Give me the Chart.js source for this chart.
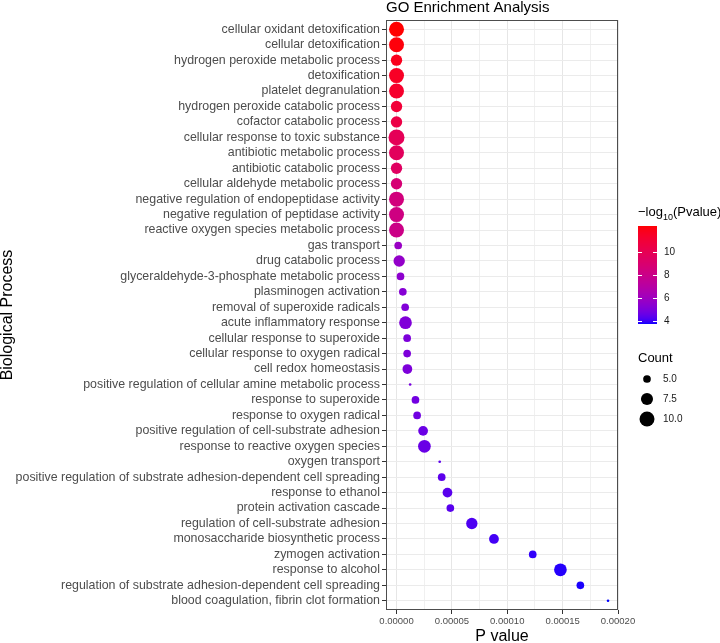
<!DOCTYPE html>
<html>
<head>
<meta charset="utf-8">
<script src="https://cdn.jsdelivr.net/npm/chart.js@4.4.1/dist/chart.umd.min.js"></script>
<style>
  html, body { margin: 0; padding: 0; background: #ffffff; }
  #wrap { width: 720px; height: 643px; }
</style>
</head>
<body>
<div id="wrap"><canvas id="goChart" width="720" height="643"></canvas></div>
<script>
const terms = [
  "cellular oxidant detoxification",
  "cellular detoxification",
  "hydrogen peroxide metabolic process",
  "detoxification",
  "platelet degranulation",
  "hydrogen peroxide catabolic process",
  "cofactor catabolic process",
  "cellular response to toxic substance",
  "antibiotic metabolic process",
  "antibiotic catabolic process",
  "cellular aldehyde metabolic process",
  "negative regulation of endopeptidase activity",
  "negative regulation of peptidase activity",
  "reactive oxygen species metabolic process",
  "gas transport",
  "drug catabolic process",
  "glyceraldehyde-3-phosphate metabolic process",
  "plasminogen activation",
  "removal of superoxide radicals",
  "acute inflammatory response",
  "cellular response to superoxide",
  "cellular response to oxygen radical",
  "cell redox homeostasis",
  "positive regulation of cellular amine metabolic process",
  "response to superoxide",
  "response to oxygen radical",
  "positive regulation of cell-substrate adhesion",
  "response to reactive oxygen species",
  "oxygen transport",
  "positive regulation of substrate adhesion-dependent cell spreading",
  "response to ethanol",
  "protein activation cascade",
  "regulation of cell-substrate adhesion",
  "monosaccharide biosynthetic process",
  "zymogen activation",
  "response to alcohol",
  "regulation of substrate adhesion-dependent cell spreading",
  "blood coagulation, fibrin clot formation"
];

const pValues = [
  5.0e-13, 7.0e-13, 1.6e-12, 2.5e-12, 4.0e-12, 1.0e-11, 3.2e-11, 1.3e-10,
  2.0e-10, 3.2e-10, 1.6e-9, 3.2e-9, 5.0e-9, 8.0e-9,
  1.5e-6, 2.4e-6, 3.6e-6, 5.7e-6, 7.8e-6, 8.1e-6, 9.6e-6, 9.6e-6, 9.8e-6,
  1.23e-5, 1.71e-5, 1.86e-5, 2.4e-5, 2.52e-5, 3.9e-5, 4.08e-5, 4.6e-5,
  4.86e-5, 6.8e-5, 8.8e-5, 1.23e-4, 1.48e-4, 1.66e-4, 1.91e-4
];

const counts = [
  10, 10, 7, 10, 10, 7, 7, 11, 10, 7, 7, 10, 10, 10,
  5, 7, 5, 5, 5, 8, 5, 5, 6, 4, 5, 5, 6, 8,
  4, 5, 6, 5, 7, 6, 5, 8, 5, 4
];

const xTickValues = [0, 0.000025, 0.00005, 0.000075, 0.0001, 0.000125, 0.00015, 0.000175, 0.0002];
const colorTicks = [4, 6, 8, 10];
const countBreaks = [5, 7.5, 10];

const fontFamily = "'Liberation Sans', Arial, Helvetica, sans-serif";

// size scale: area-proportional, like ggplot's scale_size
const countMin = 4;
const countMax = 11;
function radiusFor(count) {
  const size = 1 + 5 * Math.sqrt((count - countMin) / (countMax - countMin));
  return size * 1.33;
}

// colour scale: blue -> red interpolated in Lab space
const logP = pValues.map((p) => -Math.log10(p));
const logMin = Math.min(...logP);
const logMax = Math.max(...logP);

function toLinear(c) {
  c /= 255;
  return c <= 0.04045 ? c / 12.92 : Math.pow((c + 0.055) / 1.055, 2.4);
}
function fromLinear(c) {
  const v = c <= 0.0031308 ? 12.92 * c : 1.055 * Math.pow(c, 1 / 2.4) - 0.055;
  return Math.round(Math.max(0, Math.min(1, v)) * 255);
}
const white = [0.95047, 1, 1.08883];
function rgbToLab(rgb) {
  const [r, g, b] = rgb.map(toLinear);
  const x = (r * 0.4124 + g * 0.3576 + b * 0.1805) / white[0];
  const y = (r * 0.2126 + g * 0.7152 + b * 0.0722) / white[1];
  const z = (r * 0.0193 + g * 0.1192 + b * 0.9505) / white[2];
  const f = (t) => (t > 0.008856 ? Math.cbrt(t) : 7.787 * t + 16 / 116);
  return [116 * f(y) - 16, 500 * (f(x) - f(y)), 200 * (f(y) - f(z))];
}
function labToRgb(lab) {
  const fy = (lab[0] + 16) / 116;
  const fx = fy + lab[1] / 500;
  const fz = fy - lab[2] / 200;
  const inv = (t) => (t * t * t > 0.008856 ? t * t * t : (t - 16 / 116) / 7.787);
  const x = inv(fx) * white[0];
  const y = inv(fy) * white[1];
  const z = inv(fz) * white[2];
  const r = 3.2406 * x - 1.5372 * y - 0.4986 * z;
  const g = -0.9689 * x + 1.8758 * y + 0.0415 * z;
  const b = 0.0557 * x - 0.2040 * y + 1.0570 * z;
  return `rgb(${fromLinear(r)}, ${fromLinear(g)}, ${fromLinear(b)})`;
}
const labLow = rgbToLab([0, 0, 255]);
const labHigh = rgbToLab([255, 0, 0]);
function colorForLog(v) {
  const t = Math.max(0, Math.min(1, (v - logMin) / (logMax - logMin)));
  return labToRgb(labLow.map((c, i) => c + (labHigh[i] - c) * t));
}

function isMajor(v) {
  const k = v / 0.00005;
  return Math.abs(k - Math.round(k)) < 1e-6;
}

const decorPlugin = {
  id: "decor",
  afterDatasetsDraw(chart) {
    const { ctx, chartArea } = chart;
    ctx.save();
    ctx.strokeStyle = "#4d4d4d";
    ctx.lineWidth = 1;
    ctx.strokeRect(chartArea.left + 0.5, chartArea.top + 0.5,
      chartArea.right - chartArea.left - 1, chartArea.bottom - chartArea.top - 1);
    ctx.restore();
  },
  afterDraw(chart) {
    const { ctx, chartArea } = chart;
    ctx.save();
    ctx.textBaseline = "alphabetic";
    ctx.textAlign = "left";

    // title
    ctx.fillStyle = "#000000";
    ctx.font = `15px ${fontFamily}`;
    ctx.fillText("GO Enrichment Analysis", chartArea.left, 12);

    // colour legend
    const lx = 638;
    ctx.font = `13px ${fontFamily}`;
    let tx = lx;
    ctx.fillText("\u2212log", tx, 216);
    tx += ctx.measureText("\u2212log").width;
    ctx.font = `9px ${fontFamily}`;
    ctx.fillText("10", tx, 220);
    tx += ctx.measureText("10").width;
    ctx.font = `13px ${fontFamily}`;
    ctx.fillText("(Pvalue)", tx, 216);

    const barTop = 226, barBottom = 324, barW = 19;
    const barMax = logMax, barMin = logMin;
    for (let y = barTop; y < barBottom; y++) {
      const v = barMax - (y + 0.5 - barTop) / (barBottom - barTop) * (barMax - barMin);
      ctx.fillStyle = colorForLog(v);
      ctx.fillRect(lx, y, barW, 1);
    }
    ctx.font = `10px ${fontFamily}`;
    ctx.textBaseline = "middle";
    colorTicks.forEach((v) => {
      const y = Math.round(barTop + (barMax - v) / (barMax - barMin) * (barBottom - barTop)) + 0.5;
      ctx.strokeStyle = "#ffffff";
      ctx.lineWidth = 1;
      ctx.beginPath();
      ctx.moveTo(lx, y); ctx.lineTo(lx + 4, y);
      ctx.moveTo(lx + barW - 4, y); ctx.lineTo(lx + barW, y);
      ctx.stroke();
      ctx.fillStyle = "#1a1a1a";
      ctx.fillText(String(v), lx + 26, y);
    });

    // size legend
    ctx.textBaseline = "alphabetic";
    ctx.fillStyle = "#000000";
    ctx.font = `13px ${fontFamily}`;
    ctx.fillText("Count", lx, 362);
    ctx.font = `10px ${fontFamily}`;
    ctx.textBaseline = "middle";
    countBreaks.forEach((c, i) => {
      const y = 379 + i * 20;
      ctx.fillStyle = "#000000";
      ctx.beginPath();
      ctx.arc(647, y, radiusFor(c), 0, Math.PI * 2);
      ctx.fill();
      ctx.fillStyle = "#1a1a1a";
      ctx.fillText(c.toFixed(1), 663, y);
    });
    ctx.restore();
  }
};

Chart.defaults.font.family = fontFamily;

new Chart(document.getElementById("goChart"), {
  type: "scatter",
  data: {
    datasets: [{
      data: terms.map((term, i) => ({ x: pValues[i], y: i })),
      pointRadius: (ctx) => radiusFor(counts[ctx.dataIndex]),
      pointHoverRadius: (ctx) => radiusFor(counts[ctx.dataIndex]),
      pointBackgroundColor: (ctx) => colorForLog(logP[ctx.dataIndex]),
      pointBorderColor: (ctx) => colorForLog(logP[ctx.dataIndex]),
      pointBorderWidth: 0
    }]
  },
  options: {
    responsive: false,
    animation: false,
    devicePixelRatio: 1,
    layout: { padding: { top: 20, right: 102, bottom: 0, left: 0 } },
    plugins: {
      legend: { display: false },
      tooltip: { enabled: false }
    },
    scales: {
      x: {
        type: "linear",
        min: -0.0000095,
        max: 0.0002,
        afterBuildTicks: (scale) => { scale.ticks = xTickValues.map((v) => ({ value: v })); },
        afterFit: (scale) => { scale.height = 33; },
        border: { display: false },
        grid: {
          color: (ctx) => (ctx.tick && isMajor(ctx.tick.value) ? "#e6e6e6" : "#f0f0f0"),
          tickColor: (ctx) => (ctx.tick && isMajor(ctx.tick.value) ? "#333333" : "rgba(0,0,0,0)"),
          tickLength: 4
        },
        ticks: {
          autoSkip: false,
          maxRotation: 0,
          padding: 2,
          color: "#4d4d4d",
          font: { size: 9.5 },
          callback: (v) => (isMajor(v) ? Number(v).toFixed(5) : "")
        },
        title: {
          display: true,
          text: "P value",
          color: "#000000",
          font: { size: 16 },
          padding: { top: 0, bottom: -3 }
        }
      },
      y: {
        type: "linear",
        reverse: true,
        min: -0.6,
        max: terms.length - 0.4,
        afterBuildTicks: (scale) => { scale.ticks = terms.map((t, i) => ({ value: i })); },
        afterFit: (scale) => { scale.width = 386; },
        border: { display: false },
        grid: { color: "#ebebeb", tickColor: "#333333", tickLength: 4 },
        ticks: {
          autoSkip: false,
          padding: 2,
          color: "#4d4d4d",
          font: { size: 12.4 },
          callback: (v) => terms[v] ?? ""
        },
        title: {
          display: true,
          text: "Biological Process",
          color: "#000000",
          font: { size: 16 },
          padding: { top: -2, bottom: 0 }
        }
      }
    }
  },
  plugins: [decorPlugin]
});
</script>
</body>
</html>
